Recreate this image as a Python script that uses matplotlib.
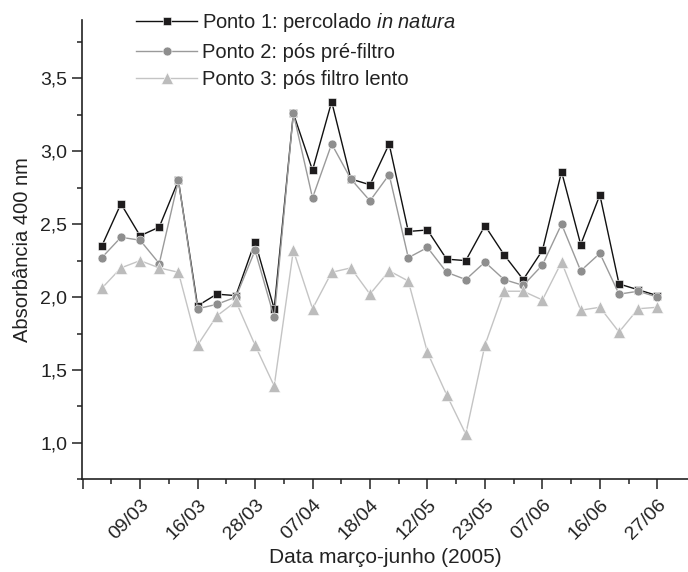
import numpy as np
import matplotlib.pyplot as plt
from matplotlib.ticker import MultipleLocator, FixedLocator, FuncFormatter

plt.rcParams['font.family'] = ['Liberation Sans', 'DejaVu Sans']
plt.rcParams['mathtext.fontset'] = 'custom'
plt.rcParams['mathtext.rm'] = 'Liberation Sans'
plt.rcParams['mathtext.it'] = 'Liberation Sans:italic'

# absorbance at 400 nm, one value per sampling date (index 0..29)
ponto1 = [2.35, 2.64, 2.42, 2.48, 2.80, 1.94, 2.02, 2.01, 2.38, 1.92,
          3.26, 2.87, 3.34, 2.81, 2.77, 3.05, 2.45, 2.46, 2.26, 2.25,
          2.49, 2.29, 2.12, 2.32, 2.86, 2.36, 2.70, 2.09, 2.05, 2.01]
ponto2 = [2.27, 2.41, 2.39, 2.23, 2.80, 1.92, 1.95, 2.00, 2.32, 1.86,
          3.26, 2.68, 3.05, 2.81, 2.66, 2.84, 2.27, 2.34, 2.17, 2.12,
          2.24, 2.12, 2.08, 2.22, 2.50, 2.18, 2.30, 2.02, 2.04, 2.00]
ponto3 = [2.06, 2.20, 2.25, 2.20, 2.17, 1.67, 1.87, 1.97, 1.67, 1.39,
          2.32, 1.92, 2.17, 2.20, 2.02, 2.18, 2.11, 1.62, 1.33, 1.06,
          1.67, 2.04, 2.04, 1.98, 2.24, 1.91, 1.93, 1.76, 1.92, 1.93]
datas = ['', '09/03', '16/03', '28/03', '07/04', '18/04', '12/05',
         '23/05', '07/06', '16/06', '27/06']

x = np.arange(len(ponto1))

fig = plt.figure(figsize=(6.88, 5.72), dpi=100)
ax = fig.add_axes([0.1187, 0.162, 0.8813, 0.803])

ax.plot(x, ponto1, '-', color='#111111', lw=1.0, marker='s', ms=6.2,
        mfc='#1e1c1d', mec='white', mew=0.4, label='Ponto 1: percolado $\\it{in\\ natura}$', zorder=3)
ax.plot(x, ponto2, '-', color='#9a9a9a', lw=1.0, marker='o', ms=6.4,
        mfc='#8e8e8e', mec='white', mew=0.4, label='Ponto 2: pós pré-filtro', zorder=4)
ax.plot(x, ponto3, '-', color='#c4c4c4', lw=1.0, marker='^', ms=8,
        mfc='#bcbcbc', mec='white', mew=0.4, label='Ponto 3: pós filtro lento', zorder=5)

ax.set_xlim(-1.05, 30.6)
ax.set_ylim(0.75, 3.9)

ticks = np.arange(-1, 30, 3)
ax.xaxis.set_major_locator(FixedLocator(ticks))
ax.xaxis.set_minor_locator(FixedLocator(ticks[:-1] + 1.5))
ax.set_xticklabels(datas, rotation=45, ha='right', rotation_mode='anchor')

ax.yaxis.set_major_locator(FixedLocator([1.0, 1.5, 2.0, 2.5, 3.0, 3.5]))
ax.yaxis.set_minor_locator(MultipleLocator(0.25))
ax.yaxis.set_major_formatter(FuncFormatter(lambda v, p: f'{v:.1f}'.replace('.', ',')))

for s in ['top', 'right']:
    ax.spines[s].set_visible(False)
for s in ['left', 'bottom']:
    ax.spines[s].set_linewidth(1.2)
    ax.spines[s].set_color('#222222')

ax.tick_params(which='major', length=7, width=1.1, color='#222222', labelsize=14, labelcolor='#222222')
ax.tick_params(which='minor', length=3.5, width=1.1, color='#222222')
ax.tick_params(axis='x', which='major', pad=5)

ax.set_xlabel('Data março-junho (2005)', fontsize=15, color='#222222', labelpad=4)
ax.set_ylabel('Absorbância 400 nm', fontsize=14.5, color='#222222', labelpad=6)

ax.legend(loc='upper left', bbox_to_anchor=(0.172, 1.012), bbox_transform=fig.transFigure,
          frameon=False, fontsize=14.5, handlelength=3.0, handletextpad=0.25,
          labelspacing=0.42, labelcolor='#222222')

fig.savefig('out.png', dpi=100)
